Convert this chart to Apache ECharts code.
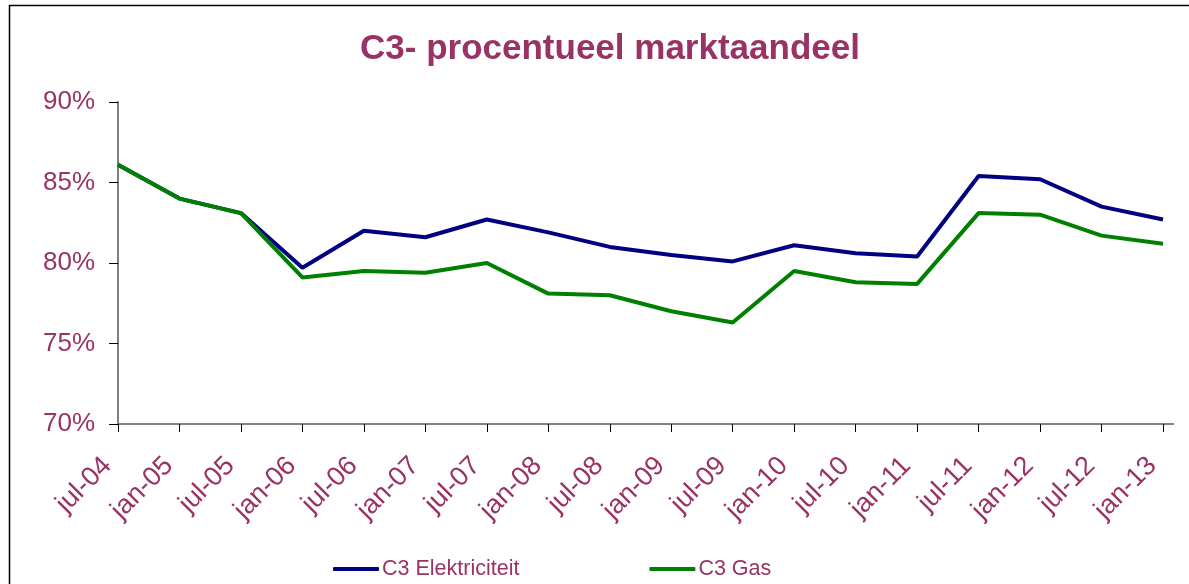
<!DOCTYPE html>
<html>
<head>
<meta charset="utf-8">
<script src="https://cdn.jsdelivr.net/npm/echarts@6/dist/echarts.min.js"></script>
<style>
html,body{margin:0;padding:0;background:#fff;}
#c{width:1189px;height:584px;}
</style>
</head>
<body>
<div id="c"></div>
<script>
const categories = ['jul-04','jan-05','jul-05','jan-06','jul-06','jan-07','jul-07','jan-08','jul-08','jan-09','jul-09','jan-10','jul-10','jan-11','jul-11','jan-12','jul-12','jan-13'];
const elektriciteit = [86.1,84.0,83.1,79.7,82.0,81.6,82.7,81.9,81.0,80.5,80.1,81.1,80.6,80.4,85.4,85.2,83.5,82.7];
const gas = [86.1,84.0,83.1,79.1,79.5,79.4,80.0,78.1,78.0,77.0,76.3,79.5,78.8,78.7,83.1,83.0,81.7,81.2];
const seriesNames = ['C3 Elektriciteit','C3 Gas'];
const titleText = 'C3- procentueel marktaandeel';

const txt = '#993366';
const chart = echarts.init(document.getElementById('c'));
chart.setOption({
  backgroundColor: '#fff',
  animation: false,
  title: {
    text: titleText,
    left: 605, top: 27, textAlign: 'center',
    textStyle: {fontFamily: 'Liberation Sans', fontWeight: 'bold', fontSize: 35, color: txt}
  },
  legend: {
    left: 328, top: 553,
    itemWidth: 46, itemHeight: 4, itemGap: 130,
    icon: 'roundRect',
    textStyle: {fontFamily: 'Liberation Sans', fontSize: 21.5, color: txt, padding: [0,0,0,-2]},
    data: seriesNames
  },
  grid: {left: 118, right: 26, top: 102, bottom: 160, containLabel: false},
  xAxis: {
    type: 'category', data: categories, boundaryGap: false,
    axisLine: {lineStyle: {color: '#808080', width: 2}},
    axisTick: {length: 8, lineStyle: {color: '#000', width: 1}},
    axisLabel: {rotate: 45, margin: 27, padding: [0, 15, 0, 0], fontFamily: 'Liberation Sans', fontSize: 27, color: txt, interval: 0}
  },
  yAxis: {
    type: 'value', min: 70, max: 90, interval: 5,
    axisLine: {show: true, lineStyle: {color: '#808080', width: 2}},
    axisTick: {show: true, length: 9, lineStyle: {color: '#000', width: 1}},
    splitLine: {show: false},
    axisLabel: {formatter: '{value}%', margin: 23, fontFamily: 'Liberation Sans', fontSize: 26, color: txt}
  },
  series: [
    {name: seriesNames[0], type: 'line', data: elektriciteit, symbol: 'none', lineStyle: {color: '#000080', width: 4}, itemStyle: {color: '#000080'}},
    {name: seriesNames[1], type: 'line', data: gas, symbol: 'none', lineStyle: {color: '#008000', width: 4}, itemStyle: {color: '#008000'}}
  ],
  graphic: [
    {type: 'rect', shape: {x: 9.5, y: 5.5, width: 1300, height: 700}, style: {fill: 'none', stroke: '#000', lineWidth: 1.5}, silent: true},
    {type: 'line', shape: {x1: 1162, y1: 424, x2: 1174, y2: 424}, style: {stroke: '#808080', lineWidth: 2}, silent: true}
  ]
});
</script>
</body>
</html>
